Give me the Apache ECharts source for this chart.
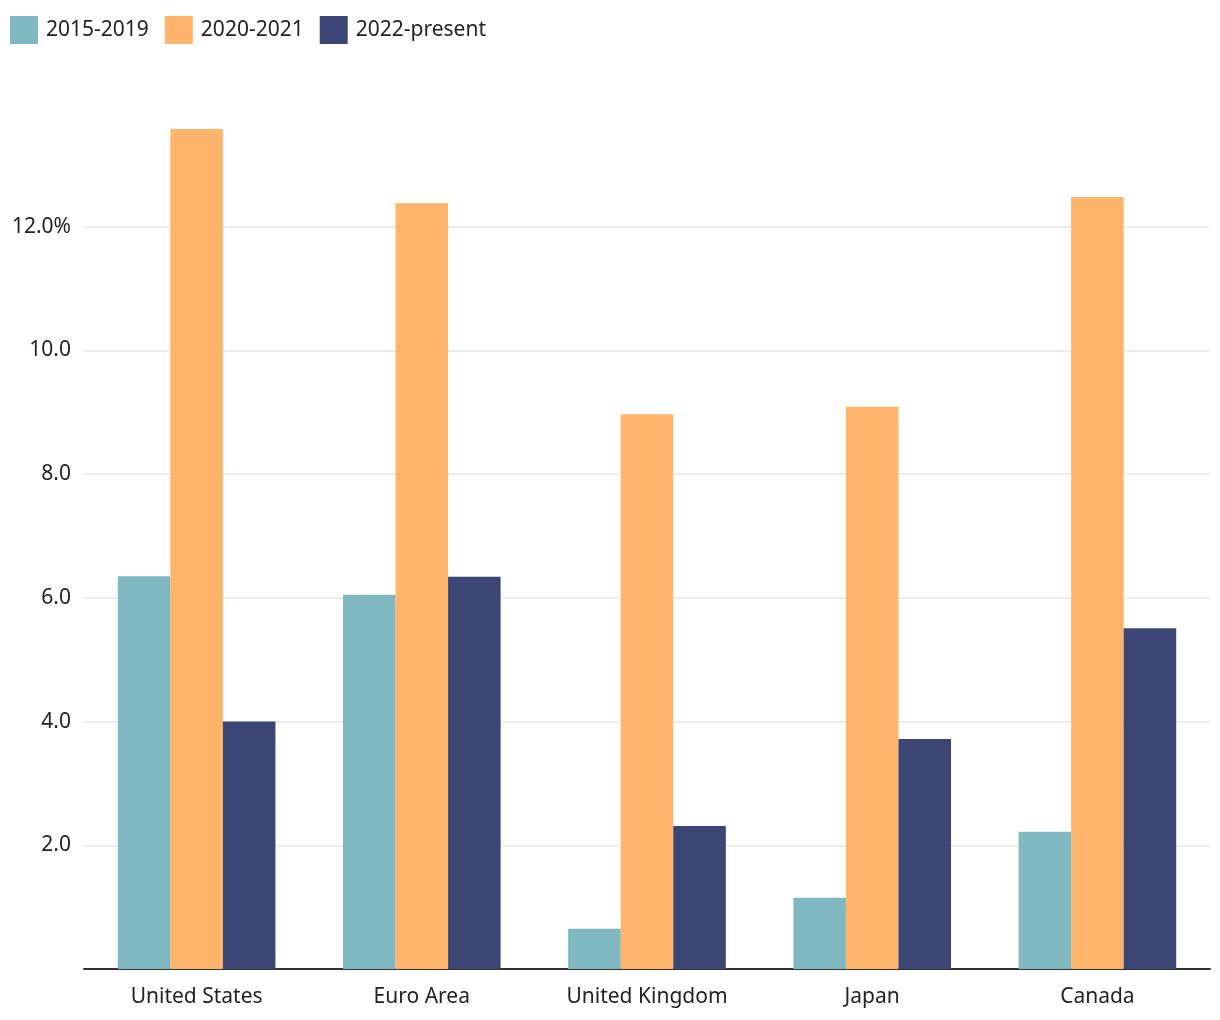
<!DOCTYPE html>
<html><head><meta charset="utf-8">
<script src="https://cdn.jsdelivr.net/npm/echarts@6/dist/echarts.min.js"></script>
<style>html,body{margin:0;padding:0;background:#fff}#c{width:1220px;height:1020px}</style>
</head><body><div id="c"></div>
<script>
const categories = ['United States', 'Euro Area', 'United Kingdom', 'Japan', 'Canada'];
const seriesNames = ['2015-2019', '2020-2021', '2022-present'];
const s2015 = [6.35, 6.05, 0.65, 1.15, 2.22];
const s2020 = [13.58, 12.38, 8.97, 9.09, 12.48];
const s2022 = [4.0, 6.34, 2.31, 3.72, 5.51];
const colors = ['#7fb8c0', '#ffb46b', '#3b4674'];

const FONT = '"Noto Sans", sans-serif';
const chart = echarts.init(document.getElementById('c'));
const mk = (name, data, i) => ({
  name, type: 'bar', data, barGap: '0%', barCategoryGap: '30%',
  itemStyle: { color: colors[i] }
});
chart.setOption({
  animation: false,
  textStyle: { fontFamily: FONT },
  legend: {
    left: 10, top: 16, padding: 0, itemWidth: 28, itemHeight: 28, itemGap: 16,
    icon: 'rect',
    textStyle: { fontSize: 21, color: '#222', fontFamily: FONT, padding: [2, 0, 0, 3] },
    data: seriesNames
  },
  grid: { left: 84, right: 10, top: 103, bottom: 51, containLabel: false },
  xAxis: {
    type: 'category', data: categories,
    axisLine: { lineStyle: { color: '#333', width: 2 } },
    axisTick: { show: false },
    axisLabel: { fontSize: 21, color: '#222', margin: 18, fontFamily: FONT }
  },
  yAxis: {
    type: 'value', min: 0, max: 14, interval: 2,
    axisLine: { show: false }, axisTick: { show: false },
    splitLine: { lineStyle: { color: ['#e6e6e6','#e6e6e6','#e6e6e6','#e6e6e6','#e6e6e6','#e6e6e6','#e6e6e6','rgba(0,0,0,0)'], width: 1.5 } },
    axisLabel: {
      fontSize: 21, color: '#222', margin: 13, fontFamily: FONT, verticalAlign: 'middle', padding: [6, 0, 0, 0],
      formatter: v => (v === 0 || v === 14) ? '' : (v === 12 ? v.toFixed(1) + '%' : v.toFixed(1))
    }
  },
  series: [mk(seriesNames[0], s2015, 0), mk(seriesNames[1], s2020, 1), mk(seriesNames[2], s2022, 2)]
});
</script></body></html>
